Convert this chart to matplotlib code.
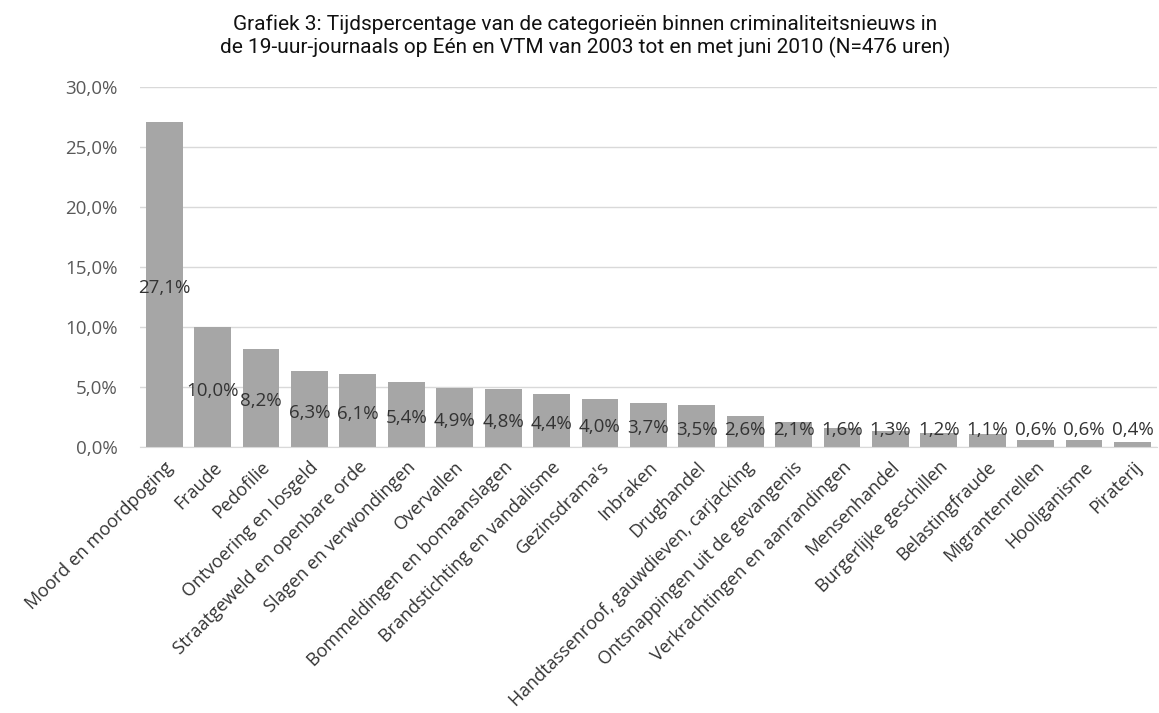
import matplotlib
matplotlib.use("Agg")
import matplotlib.pyplot as plt
from matplotlib.ticker import FuncFormatter

categories = [
    "Moord en moordpoging", "Fraude", "Pedofilie", "Ontvoering en losgeld",
    "Straatgeweld en openbare orde", "Slagen en verwondingen", "Overvallen",
    "Bommeldingen en bomaanslagen", "Brandstichting en vandalisme",
    "Gezinsdrama's", "Inbraken", "Drughandel",
    "Handtassenroof, gauwdieven, carjacking",
    "Ontsnappingen uit de gevangenis", "Verkrachtingen en aanrandingen",
    "Mensenhandel", "Burgerlijke geschillen", "Belastingfraude",
    "Migrantenrellen", "Hooliganisme", "Piraterij",
]
values = [27.1, 10.0, 8.2, 6.3, 6.1, 5.4, 4.9, 4.8, 4.4, 4.0, 3.7, 3.5,
          2.6, 2.1, 1.6, 1.3, 1.2, 1.1, 0.6, 0.6, 0.4]
yticks = [0, 5, 10, 15, 20, 25, 30]

title_1 = "Grafiek 3: Tijdspercentage van de categorieën binnen criminaliteitsnieuws in"
title_2 = "de 19-uur-journaals op Eén en VTM van 2003 tot en met juni 2010 (N=476 uren)"


def pct(v, pos=None):
    return f"{v:.1f}%".replace(".", ",")


fig = plt.figure(figsize=(11.59, 7.13), dpi=100)
ax = fig.add_axes([0.1208, 0.3731, 0.8772, 0.5049])

x = range(len(values))
ax.bar(x, values, width=0.76, color="#a6a6a6", zorder=2)

# labels sit a little below the bar middle, never lower than ~1.45%
for i, v in enumerate(values):
    ax.text(i, max(v / 2 - 0.3, 1.45), pct(v), ha="center", va="center",
            fontsize=13.5, color="#333333", family="Open Sans", zorder=3)

ax.set_xlim(-0.5, len(values) - 0.5)
ax.set_ylim(0, 30)
ax.set_yticks(yticks)
ax.yaxis.set_major_formatter(FuncFormatter(pct))
ax.grid(axis="y", color="#d9d9d9", linewidth=1, zorder=0)
for s in ["top", "right", "left"]:
    ax.spines[s].set_visible(False)
ax.spines["bottom"].set_color("#d9d9d9")
ax.tick_params(axis="both", length=0)
ax.tick_params(axis="y", labelsize=13.5, labelcolor="#595959", pad=16)

ax.set_xticks(list(x))
ax.set_xticklabels(categories, rotation=45, ha="right", rotation_mode="anchor",
                   fontsize=13, color="#333333", family="Open Sans")
ax.tick_params(axis="x", pad=8)
for lbl in ax.get_yticklabels():
    lbl.set_family("Open Sans")

fig.text(0.505, 1 - 24 / 713, title_1, ha="center", va="center", fontsize=15,
         family="Roboto", color="#111111")
fig.text(0.505, 1 - 47 / 713, title_2, ha="center", va="center", fontsize=15,
         family="Roboto", color="#111111")

fig.savefig("out.png", dpi=100)
